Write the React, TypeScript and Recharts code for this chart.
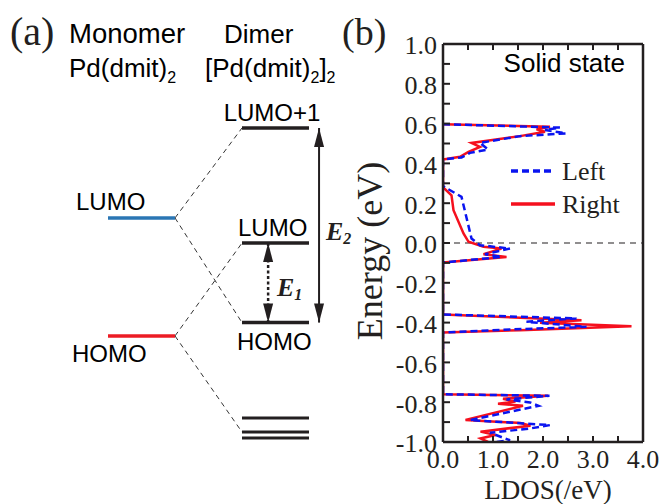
import React from "react";
import { LineChart, Line, XAxis, YAxis, ReferenceLine, Legend } from "recharts";

const SERIF = '"Liberation Serif", "Times New Roman", serif';
const SANS = '"Liberation Sans", Arial, sans-serif';
const INK = "#231f20";

// ---- panel (b): LDOS vs energy, [energy eV, LDOS /eV]; null breaks the curve
const leftCurve: [number, number | null][] = [
  [0.597, 0], [0.58, 2.34], [0.568, 2.04], [0.551, 2.46], [0.537, 1.54],
  [0.503, 0.74], [0.47, 0.9], [0.453, 0.54], [0.43, 0.37], [0.42, 0],
  [0.35, null],
  [0.286, 0], [0.232, 0.37], [0.023, 0.57], [-0.011, 0.74], [-0.028, 1.34],
  [-0.056, 0.84], [-0.07, 1.17], [-0.098, 0],
  [-0.2, null],
  [-0.359, 0], [-0.379, 2.67], [-0.396, 1.67], [-0.421, 2.87], [-0.434, 1.41], [-0.45, 0],
  [-0.6, null],
  [-0.76, 0], [-0.768, 2.13], [-0.786, 1.27], [-0.801, 1.74], [-0.818, 1.91],
  [-0.89, 0.54], [-0.915, 2.14], [-0.932, 1.74], [-0.954, 0.94], [-0.991, 1.34], [-1.0, 1.07],
];

const rightCurve: [number, number | null][] = [
  [0.597, 0], [0.584, 2.14], [0.571, 1.87], [0.559, 2.04], [0.537, 1.54],
  [0.503, 0.57], [0.483, 0.74], [0.458, 0.51], [0.433, 0.34], [0.42, 0],
  [0.35, null],
  [0.28, 0], [0.24, 0.17], [0.165, 0.21], [0.048, 0.41], [0.006, 0.51],
  [-0.019, 0.81], [-0.028, 1.17], [-0.056, 0.81], [-0.07, 1.27], [-0.098, 0],
  [-0.2, null],
  [-0.359, 0], [-0.388, 2.77], [-0.401, 1.94], [-0.418, 3.77], [-0.438, 1.54], [-0.45, 0],
  [-0.6, null],
  [-0.76, 0], [-0.768, 2.1], [-0.783, 1.2], [-0.797, 1.45], [-0.808, 1.1], [-0.818, 1.6],
  [-0.889, 0.45], [-0.905, 1.55], [-0.918, 1.75], [-0.948, 0.75], [-0.965, 1.05],
  [-0.982, 0.75], [-1.0, 0.9],
];

const series = [
  { name: "Left", color: "#0a14f0", dash: "7 4", data: leftCurve },
  { name: "Right", color: "#f5101e", dash: "", data: rightCurve },
];

const energyTicks = [-1.0, -0.9, -0.8, -0.7, -0.6, -0.5, -0.4, -0.3, -0.2, -0.1, 0.0,
  0.1, 0.2, 0.3, 0.4, 0.5, 0.6, 0.7, 0.8, 0.9, 1.0];
const energyLabels = [-1.0, -0.8, -0.6, -0.4, -0.2, 0.0, 0.2, 0.4, 0.6, 0.8, 1.0];
const ldosTicks = [0, 0.5, 1, 1.5, 2, 2.5, 3, 3.5, 4];
const ldosLabels = [0, 1, 2, 3, 4];

// ---- panel (a): level diagram on the same energy scale
const monomerCol = [1, 2];
const dimerCol = [3, 4];
const monomerLevels = [
  { label: "LUMO", E: 0.126, color: "#2a76b4" },
  { label: "HOMO", E: -0.467, color: "#ec1c24" },
];
const dimerLevels = [0.578, 0.0, -0.4, -0.879, -0.95, -0.98];
const splitLinks = [
  [0.126, 0.578],
  [0.126, -0.4],
  [-0.467, 0.0],
  [-0.467, -0.95],
];
const arrows = [
  { name: "E2", x: 4.15, from: 0.578, to: -0.4, dash: "" },
  { name: "E1", x: 3.39, from: 0.0, to: -0.4, dash: "3 2.5" },
];

const toRows = (d: [number, number | null][]) => d.map(([E, L]) => ({ E, L }));

// panel (b) plot box in its own chart coords (chart sits at left 330)
const B_LEFT = 330;
const PL = 113;
const PR = 313;
const PT = 44;
const PB = 442;

const isLabel = (list: number[], v: number) => list.some((t) => Math.abs(t - v) < 1e-6);

const LeftTick = (props: any) => {
  const { y, payload } = props;
  const v = payload.value;
  return (
    <g>
      <line x1={PL} x2={PL + 7} y1={y} y2={y} stroke={INK} strokeWidth={2} />
      {isLabel(energyLabels, v) && (
        <text x={PL - 6} y={y} dy="0.4em" textAnchor="end" fontFamily={SERIF} fontSize={26} fill={INK}>
          {v.toFixed(1)}
        </text>
      )}
    </g>
  );
};

const RightTick = (props: any) => (
  <line x1={PR} x2={PR - 7} y1={props.y} y2={props.y} stroke={INK} strokeWidth={2} />
);

const BottomTick = (props: any) => {
  const { x, payload } = props;
  const v = payload.value;
  return (
    <g>
      <line x1={x} x2={x} y1={PB} y2={PB - 6} stroke={INK} strokeWidth={2} />
      {isLabel(ldosLabels, v) && (
        <text x={x} y={468} textAnchor="middle" fontFamily={SERIF} fontSize={26} fill={INK}>
          {v.toFixed(1)}
        </text>
      )}
    </g>
  );
};

const TopTick = (props: any) => (
  <line x1={props.x} x2={props.x} y1={PT} y2={PT + 6} stroke={INK} strokeWidth={2} />
);

const LegendBox = () => (
  <svg width={130} height={70} style={{ display: "block", overflow: "visible" }}>
    {series.map((s, i) => (
      <g key={s.name}>
        <line x1={3} x2={47} y1={19 + i * 33} y2={19 + i * 33} stroke={s.color} strokeWidth={3.5}
          strokeDasharray={s.dash || undefined} />
        <text x={54} y={19 + i * 33} dy="0.33em" fontFamily={SERIF} fontSize={26} fill={INK}>
          {s.name}
        </text>
      </g>
    ))}
  </svg>
);

const arrowHead = (props: any) => {
  const { cx, cy, index } = props;
  const d = index === 0
    ? `M${cx},${cy} L${cx - 5},${cy + 19} L${cx + 5},${cy + 19} Z`
    : `M${cx},${cy} L${cx - 5},${cy - 19} L${cx + 5},${cy - 19} Z`;
  return <path key={`h${index}`} d={d} fill={INK} stroke="none" />;
};

export default function App() {
  return (
    <div style={{ position: "absolute", left: 0, top: 0, width: 661, height: 504, background: "#fff" }}>
      {/* panel (a) */}
      <div style={{ position: "absolute", left: 0, top: 0 }}>
        <LineChart width={420} height={504} margin={{ top: 44, bottom: 62, left: 41, right: 44 }}>
          <XAxis type="number" dataKey="x" domain={[0, 5]} allowDataOverflow hide />
          <YAxis type="number" domain={[-1, 1]} allowDataOverflow hide />
          {splitLinks.map(([a, b], i) => (
            <Line key={`link${i}`} data={[{ x: monomerCol[1], y: a }, { x: dimerCol[0], y: b }]}
              dataKey="y" stroke="#333" strokeWidth={1} strokeDasharray="5 4" dot={false}
              isAnimationActive={false} />
          ))}
          {monomerLevels.map((l) => (
            <Line key={l.label} data={[{ x: monomerCol[0], y: l.E }, { x: monomerCol[1], y: l.E }]}
              dataKey="y" stroke={l.color} strokeWidth={3.5} dot={false} isAnimationActive={false} />
          ))}
          {dimerLevels.map((E, i) => (
            <Line key={`d${i}`} data={[{ x: dimerCol[0], y: E }, { x: dimerCol[1], y: E }]}
              dataKey="y" stroke={INK} strokeWidth={i < 3 ? 3.5 : 3} dot={false} isAnimationActive={false} />
          ))}
          {arrows.map((a) => (
            <Line key={a.name} data={[{ x: a.x, y: a.from }, { x: a.x, y: a.to }]}
              dataKey="y" stroke={INK} strokeWidth={a.dash ? 2.5 : 2}
              strokeDasharray={a.dash || undefined} dot={arrowHead} activeDot={false}
              isAnimationActive={false} />
          ))}
        </LineChart>
      </div>

      {/* panel (b) */}
      <div style={{ position: "absolute", left: B_LEFT, top: 0 }}>
        <LineChart layout="vertical" width={331} height={504}
          margin={{ top: 36, bottom: 12, left: 53, right: 10 }}>
          <XAxis xAxisId="b" type="number" domain={[0, 4]} ticks={ldosTicks} allowDataOverflow
            orientation="bottom" height={50} stroke={INK} strokeWidth={2.5} tickLine={false}
            tick={<BottomTick />} interval={0} />
          <XAxis xAxisId="t" type="number" domain={[0, 4]} ticks={ldosTicks} allowDataOverflow
            orientation="top" height={8} stroke={INK} strokeWidth={2.5} tickLine={false}
            tick={<TopTick />} interval={0} />
          <YAxis yAxisId="l" type="number" dataKey="E" domain={[-1, 1]} ticks={energyTicks} reversed
            allowDataOverflow width={60} stroke={INK} strokeWidth={2.5} tickLine={false}
            tick={<LeftTick />} interval={0} />
          <YAxis yAxisId="r" type="number" orientation="right" domain={[-1, 1]} ticks={energyTicks} reversed
            allowDataOverflow width={8} stroke={INK} strokeWidth={2.5} tickLine={false}
            tick={<RightTick />} interval={0} />
          <ReferenceLine xAxisId="b" yAxisId="l" y={0} stroke={INK} strokeWidth={1.2} strokeDasharray="6 5" />
          {[...series].reverse().map((s) => (
            <Line key={s.name} xAxisId="b" yAxisId="l" name={s.name} data={toRows(s.data)} dataKey="L"
              type="linear" stroke={s.color} strokeWidth={2.5} strokeDasharray={s.dash || undefined}
              dot={false} activeDot={false} isAnimationActive={false} />
          ))}
          <Legend layout="vertical" align="center" verticalAlign="middle" content={<LegendBox />}
            wrapperStyle={{ left: 178, top: 152, width: 130, height: 70 }} />
        </LineChart>
      </div>

      {/* text */}
      <svg width={661} height={504} style={{ position: "absolute", left: 0, top: 0, pointerEvents: "none" }}>
        <text x={10} y={45} fontFamily={SERIF} fontSize={40} fill={INK}>(a)</text>
        <text x={342} y={45} fontFamily={SERIF} fontSize={38} fill={INK}>(b)</text>
        <g fontFamily={SANS} fill="#000">
          <text x={69} y={43} fontSize={27.5}>Monomer</text>
          <text x={224} y={43} fontSize={26}>Dimer</text>
          <text x={69} y={77} fontSize={26}>Pd(dmit)<tspan fontSize={16} dy={6}>2</tspan></text>
          <text x={205} y={77} fontSize={26}>[Pd(dmit)<tspan fontSize={16} dy={6}>2</tspan><tspan dy={-6}>]</tspan><tspan fontSize={16} dy={6}>2</tspan></text>
        </g>
        <g fontFamily={SANS} fontSize={24} fill="#000">
          <text x={272} y={121} textAnchor="middle">LUMO+1</text>
          <text x={76} y={210}>LUMO</text>
          <text x={238} y={236}>LUMO</text>
          <text x={72} y={362}>HOMO</text>
          <text x={237} y={350}>HOMO</text>
        </g>
        <g fontFamily={SERIF} fontSize={26} fontWeight="bold" fontStyle="italic" fill={INK}>
          <text x={326} y={240}>E<tspan fontSize={16} dy={4}>2</tspan></text>
          <text x={277} y={296}>E<tspan fontSize={16} dy={4}>1</tspan></text>
        </g>
        <text x={382} y={251} transform="rotate(-90 382 251)" textAnchor="middle" fontFamily={SERIF}
          fontSize={36} fill={INK}>Energy (eV)</text>
        <text x={548} y={499} textAnchor="middle" fontFamily={SERIF} fontSize={27} fill={INK}>LDOS(/eV)</text>
        <text x={625} y={72} textAnchor="end" fontFamily={SANS} fontSize={26} fill="#000">Solid state</text>
      </svg>
    </div>
  );
}
